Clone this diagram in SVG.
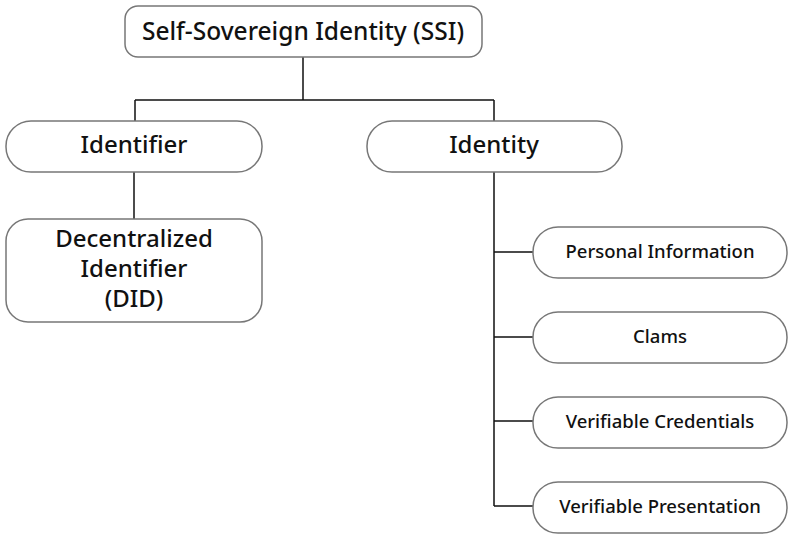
<svg xmlns="http://www.w3.org/2000/svg" width="791" height="539" viewBox="0 0 791 539">
<style>
.box{fill:#fff;stroke:#777;stroke-width:1.5}
.ln{stroke:#111;stroke-width:1.5;fill:none}
text{font-family:"Noto Sans","Open Sans",sans-serif;font-weight:500;fill:#111;text-anchor:middle;dominant-baseline:central}
.l{font-size:24.5px}
.m{font-size:24px}
.s{font-size:18.5px}
</style>
<rect width="791" height="539" fill="#fff"/>
<g id="connectors">
<path class="ln" d="M303 57V100M135 100H494M135 100V121M494 100V121"/>
<path class="ln" d="M134 172V219"/>
<path class="ln" d="M494 172V506M494 252H533M494 337H533M494 421H533M494 506H533"/>
</g>
<g id="ssi"><rect class="box" x="125" y="6" width="357" height="51" rx="13"/><text class="l" x="303" y="30">Self-Sovereign Identity (SSI)</text></g>
<g id="identifier"><rect class="box" x="6" y="121" width="256" height="51" rx="25"/><text class="m" x="134" y="143.5">Identifier</text></g>
<g id="did"><rect class="box" x="6" y="219" width="256" height="103" rx="22"/><text class="m" x="134" y="237">Decentralized</text><text class="m" x="134" y="267">Identifier</text><text class="m" x="134" y="297">(DID)</text></g>
<g id="identity"><rect class="box" x="367" y="121" width="255" height="51" rx="25"/><text class="m" x="494" y="143.5">Identity</text></g>
<g id="personal"><rect class="box" x="533" y="227" width="254" height="51" rx="25"/><text class="s" x="660" y="250">Personal Information</text></g>
<g id="clams"><rect class="box" x="533" y="312" width="254" height="51" rx="25"/><text class="s" x="660" y="335">Clams</text></g>
<g id="vc"><rect class="box" x="533" y="397" width="254" height="51" rx="25"/><text class="s" x="660" y="420">Verifiable Credentials</text></g>
<g id="vp"><rect class="box" x="533" y="482" width="254" height="51" rx="25"/><text class="s" x="660" y="505">Verifiable Presentation</text></g>
</svg>
